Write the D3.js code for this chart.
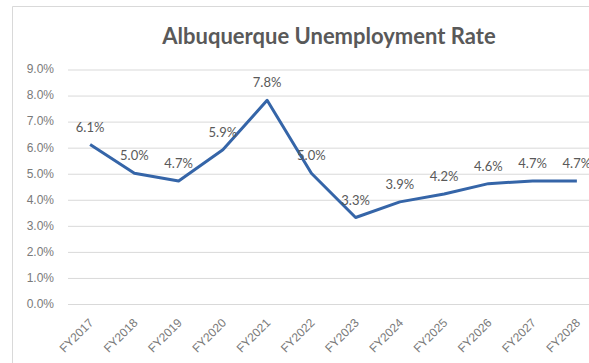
<!DOCTYPE html>
<html>
<head>
<meta charset="utf-8">
<script src="https://cdn.jsdelivr.net/npm/d3@7"></script>
<style>
  body { margin: 0; background: #fff; }
  svg { display: block; font-family: Lato, "Open Sans", sans-serif; }
  .grid line { stroke: #d9d9d9; stroke-width: 1; }
  .grid .domain { display: none; }
  .yaxis text, .xaxis text { fill: #7a7a7a; font-size: 12px; }
  .yaxis .domain, .yaxis line, .xaxis .domain, .xaxis line { display: none; }
</style>
</head>
<body>
<div id="chart"></div>
<script>
// fiscal years and rate (%)
const years = ["FY2017", "FY2018", "FY2019", "FY2020", "FY2021", "FY2022",
  "FY2023", "FY2024", "FY2025", "FY2026", "FY2027", "FY2028"];
const rates = [6.1, 5.0, 4.7, 5.9, 7.8, 5.0, 3.3, 3.9, 4.2, 4.6, 4.7, 4.7];
const yticks = [0, 1, 2, 3, 4, 5, 6, 7, 8, 9];
const title = "Albuquerque Unemployment Rate";

const totalW = 589, totalH = 363;
const margin = {top: 69, left: 68, bottom: 59.5};
const W = 531; // plot runs past the right edge, as in the original
const H = totalH - margin.top - margin.bottom;
const linecolor = "#3565a8";

const svg = d3.select("#chart").append("svg")
  .attr("width", totalW)
  .attr("height", totalH);

// outer frame (only top and left show in the crop)
svg.append("line").attr("x1", 12.5).attr("x2", totalW).attr("y1", 6.5).attr("y2", 6.5)
  .attr("stroke", "#d9d9d9");
svg.append("line").attr("x1", 12.5).attr("x2", 12.5).attr("y1", 6.5).attr("y2", totalH)
  .attr("stroke", "#d9d9d9");

svg.append("text")
  .attr("x", 329)
  .attr("y", 44)
  .attr("text-anchor", "middle")
  .attr("font-size", 22)
  .attr("font-weight", "bold")
  .attr("fill", "#595959")
  .text(title);

const g = svg.append("g")
  .attr("transform", "translate(" + margin.left + " " + margin.top + ")");

const xscale = d3.scaleBand().domain(years).range([0, W]);
const yscale = d3.scaleLinear().domain([0, 9]).range([H, 0]);
const xc = (d, i) => xscale(years[i]) + xscale.bandwidth() / 2;

// horizontal gridlines
g.append("g")
  .attr("class", "grid")
  .call(d3.axisLeft(yscale).tickValues(yticks).tickSize(-W).tickFormat(""))
  .selectAll("line").attr("transform", "translate(0 0.5)");

g.append("g")
  .attr("class", "yaxis")
  .attr("transform", "translate(-3 0)")
  .call(d3.axisLeft(yscale).tickValues(yticks).tickSize(0).tickPadding(11)
    .tickFormat(d => d.toFixed(1) + "%"));

const xax = g.append("g")
  .attr("class", "xaxis")
  .attr("transform", "translate(0 " + H + ")")
  .call(d3.axisBottom(xscale).tickSize(0).tickPadding(0));
xax.selectAll("text")
  .attr("text-anchor", "end")
  .attr("dy", 0)
  .attr("transform", "translate(4 20) rotate(-45)");

const line = d3.line()
  .x(xc)
  .y(d => yscale(d));

g.append("path")
  .datum(rates)
  .attr("fill", "none")
  .attr("stroke", linecolor)
  .attr("stroke-width", 3)
  .attr("stroke-linejoin", "round")
  .attr("d", line);

g.selectAll(".lbl").data(rates).enter()
  .append("text")
  .attr("class", "lbl")
  .attr("x", xc)
  .attr("y", d => yscale(d) - 13)
  .attr("text-anchor", "middle")
  .attr("font-size", 13)
  .attr("fill", "#595959")
  .text(d => d.toFixed(1) + "%");
</script>
</body>
</html>
